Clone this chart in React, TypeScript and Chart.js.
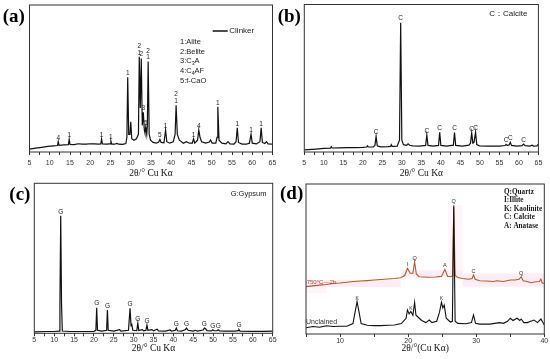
import React, { useEffect, useRef } from 'react';
import { Chart, registerables } from 'chart.js';

Chart.register(...registerables);

const W = 550;
const H = 359;
const SANS = '"Liberation Sans", Arial, sans-serif';
const SERIF = '"Liberation Serif", "Times New Roman", serif';

// ---------------- (a) Clinker ----------------
const aTheta = [5, 6.5, 8, 9.5, 11, 11.9, 12.1, 12.3, 13.5, 14.6, 14.8, 15.0, 16, 17, 18, 19, 20, 21, 22, 22.6, 22.8, 23.0, 24, 24.9, 25.1, 25.3, 26, 26.6, 27, 28, 28.8, 29.05, 29.25, 29.5, 29.8, 30.0, 30.25, 30.8, 31.4, 31.9, 32.1, 32.35, 32.6, 32.85, 33.1, 33.35, 33.5, 33.7, 33.95, 34.1, 34.3, 34.55, 34.9, 35.5, 36.3, 36.9, 37.2, 37.5, 38.2, 38.6, 38.9, 39.6, 40.5, 40.95, 41.2, 41.5, 42, 43, 43.7, 44.5, 45.2, 45.5, 45.8, 46.5, 46.8, 47.1, 47.5, 48.5, 49.4, 49.7, 50.1, 51.0, 51.3, 51.5, 51.8, 52.5, 53.5, 54.0, 54.5, 55.5, 56.0, 56.3, 56.6, 57.5, 58.5, 59.3, 59.7, 60.0, 61, 61.9, 62.2, 62.5, 63.1, 63.5, 63.9, 65];
const aClinker = [2, 2.6, 3.2, 3.8, 4.2, 4.4, 7, 4.5, 4.8, 5, 8.6, 5.1, 5, 5.6, 5.4, 5.3, 5.6, 5.5, 5.4, 5.5, 8.8, 5.5, 5.3, 5.5, 7.5, 5.4, 5.3, 5.8, 5.3, 5.2, 5.8, 10, 50.8, 12, 12, 20.5, 9, 8, 9, 12, 64.8, 30, 63.6, 18, 27, 15, 13, 17, 12, 18, 61.5, 12, 8, 6.5, 6, 6.8, 8.5, 6.5, 6.3, 15, 7, 6, 7, 12, 31.8, 12, 8, 6, 7, 6, 6, 9, 6, 8, 15, 10, 7, 6, 6.8, 8.2, 6, 6, 10, 30.8, 8, 6, 5.5, 7, 5.5, 5.3, 7, 16.5, 6.5, 5.4, 5.3, 6, 12, 6, 5.5, 7, 16.5, 6.5, 5.8, 7, 5.5, 5.3];
const aPeakTheta = [12.1, 14.8, 22.8, 25.1, 29.25, 32.1, 32.6, 33.1, 33.7, 34.3, 37.2, 38.6, 41.2, 45.5, 46.8, 51.5, 56.3, 59.7, 62.2];
const aPeakText = ['4', '1', '1', '1', '1', '2\n1', '2', '3', '5', '2\n1', '5', '1', '2\n1', '1', '4', '1', '1', '1', '1'];

// ---------------- (b) Calcite ----------------
const bTheta = [5, 8, 10, 11.7, 11.9, 12.1, 14, 16, 18, 20, 21.0, 21.2, 21.4, 22.7, 23.1, 23.4, 23.7, 24.5, 26.5, 27.1, 27.3, 27.5, 28.8, 29.4, 29.7, 30.0, 30.4, 31.2, 31.6, 32.0, 32.8, 34.5, 36.1, 36.4, 36.7, 38, 39.4, 39.7, 40.0, 41.5, 43.2, 43.5, 43.8, 45.5, 47.2, 47.6, 47.9, 48.2, 48.5, 48.9, 49.2, 49.9, 52, 55, 56.5, 56.7, 57.0, 57.5, 57.8, 58.1, 59.5, 60.8, 61.2, 61.6, 62.8, 63.4, 63.7, 64.6, 65];
const bCalcite = [1.5, 2, 2.4, 2.6, 3.6, 2.7, 2.8, 3, 3, 3.2, 3.4, 4.2, 3.4, 3.5, 4.5, 10.5, 4.2, 3.5, 3.6, 3.8, 5, 3.8, 4, 8, 87.7, 8, 5, 4.5, 5.5, 4.6, 4.2, 4, 4.5, 11.5, 4.5, 4, 4.5, 13.3, 4.5, 4, 4.6, 13.1, 4.5, 4, 4.6, 6, 13, 6, 6.5, 13.5, 5, 4.2, 4, 4, 4.4, 5.2, 4.5, 4.8, 6.6, 4.5, 4, 4.3, 5.4, 4.3, 4, 4.6, 4, 4.2, 5.4];
const bPeakTheta = [23.4, 29.7, 36.4, 39.7, 43.5, 47.9, 48.9, 56.7, 57.8, 61.2];
const bPeakText = ['C', 'C', 'C', 'C', 'C', 'C', 'C', 'C', 'C', 'C'];

// ---------------- (c) Gypsum ----------------
const cTheta = [5, 8, 10, 11.25, 11.45, 11.65, 11.85, 12.05, 14, 17, 20, 20.5, 20.7, 20.9, 22, 23.2, 23.4, 23.6, 25, 26.5, 26.8, 28.7, 29.1, 29.35, 29.5, 29.8, 30.8, 31.05, 31.3, 32.2, 32.5, 33.1, 33.35, 33.6, 34.6, 35, 35.9, 36.3, 38, 39.2, 39.5, 40.5, 40.75, 41.0, 42, 43.0, 43.3, 43.7, 45, 45.5, 46, 47.5, 47.8, 48.1, 48.5, 49.6, 49.9, 50.2, 51.0, 51.3, 51.6, 53, 55.5, 56.3, 56.5, 56.8, 60, 63, 65];
const cGypsum = [1, 1.2, 1.2, 1.5, 20, 78.4, 20, 1.5, 1.2, 1.2, 1.3, 2, 17.1, 2, 1.4, 2, 15.5, 2, 1.4, 2.4, 1.5, 2, 16.7, 5, 6.5, 2, 1.8, 6.7, 1.8, 2.4, 1.6, 2, 5.5, 2, 2.5, 1.6, 2.7, 1.6, 1.5, 2.2, 1.5, 2, 3.5, 1.7, 1.5, 2.3, 3.5, 2, 1.5, 2, 1.5, 2.2, 3.5, 3, 1.7, 1.6, 2.3, 1.7, 1.8, 2.3, 1.6, 1.4, 1.4, 1.8, 2.5, 1.5, 1.3, 1.3, 1.4];
const cPeakTheta = [11.65, 20.7, 23.4, 29.1, 31.05, 33.35, 40.75, 43.3, 47.8, 49.9, 51.3, 56.5];
const cPeakText = ['G', 'G', 'G', 'G', 'G', 'G', 'G', 'G', 'G', 'G', 'G', 'G'];

// ---------------- (d) Clay ----------------
const dTheta = [5, 6, 7, 8, 9, 10, 11, 11.9, 12.2, 12.5, 12.8, 13.1, 14, 15, 16, 17, 18, 19, 19.7, 19.9, 20.15, 20.4, 20.7, 20.95, 21.15, 21.4, 22, 22.6, 23.1, 23.5, 24.2, 24.6, 24.9, 25.1, 25.3, 25.6, 26.2, 26.5, 26.7, 26.9, 27.3, 28.5, 29.3, 29.6, 29.9, 30.5, 32, 33.4, 34, 34.6, 35, 35.4, 36, 36.4, 36.6, 37, 37.5, 38, 38.5, 39, 39.5, 40];
const dUncalcined = [4.2, 5, 4.5, 5.5, 5, 5.2, 5.2, 7, 14.4, 21.6, 14.4, 7, 5.8, 5.6, 5.6, 5.8, 6, 7, 10.5, 16, 13.4, 15, 12.5, 21.1, 12.5, 11.5, 9, 7.6, 9.3, 7.6, 8.5, 14.4, 21.1, 17.4, 19.3, 10.5, 8, 8.5, 85, 8.5, 7.1, 6.8, 7.6, 12.7, 7.1, 6.6, 6.6, 7.6, 7.1, 8.5, 10.5, 9, 10.5, 9, 10, 7.6, 7.6, 8.5, 9.3, 7.6, 10, 6];
const d750Theta = [5, 6, 7, 8, 9, 10, 11, 12, 13, 14, 15, 16, 17, 18, 18.9, 19.5, 19.9, 20.3, 20.7, 20.95, 21.2, 21.6, 22.3, 23, 24, 24.9, 25.4, 25.8, 26.3, 26.55, 26.7, 26.9, 27.3, 28, 28.9, 29.4, 29.6, 29.85, 30.5, 31.5, 32.5, 33, 34, 35, 35.7, 36.3, 36.6, 36.9, 37.5, 38, 38.8, 39.3, 39.5, 39.7, 40];
const d750 = [31.6, 32.1, 32.6, 33, 33.7, 34, 34.5, 35, 35.3, 35.6, 36, 36.3, 36.7, 37, 37.5, 39, 43.8, 40.5, 40.5, 48.2, 40, 38.2, 38, 37.8, 38, 38.4, 43.1, 38.4, 38.2, 39, 86, 39, 37.6, 37, 36.5, 37, 39.3, 36.5, 35.5, 35.3, 35, 35.5, 35, 36, 36, 36.5, 38.2, 35.5, 35, 34.2, 34.8, 35, 36.6, 34, 33.7];
const d750PeakTheta = [19.9, 20.95, 25.4, 26.7, 29.6, 36.6];
const d750PeakText = ['I', 'Q', 'A', 'Q', 'C', 'Q'];
const dUncPeakTheta = [12.5, 20.4, 24.9];
const dUncPeakText = ['K', 'K', 'K'];

type Seg = { t: string; sub?: boolean };
type TextItem = { segs: Seg[]; x: number; y: number; size: number; family: string; weight?: string; color: string };
type Band = { x0: number; x1: number; y0: number; y1: number; color: string };
type PeakSet = { ds: number; theta: number[]; text: string[]; size: number; gap: number; lineH: number; color: string };
type PanelCfg = {
  letter: string; letterX: number; letterY: number;
  area: { left: number; right: number; top: number; bottom: number };
  axisH: number; tickPad: number;
  xMin: number; xMax: number; step: number; labelEvery: number;
  title: string;
  series: { xs: number[]; ys: number[]; color: string; width: number }[];
  peaks: PeakSet[];
  texts: TextItem[];
  legendLine?: { x0: number; x1: number; y: number };
  bands?: Band[];
};

const t = (s: string, x: number, y: number, size: number, extra: Partial<TextItem> = {}): TextItem => ({
  segs: [{ t: s }], x, y, size, family: SANS, color: '#1a1a1a', ...extra,
});

const PINK = 'rgba(250,190,220,0.28)';

const panels: PanelCfg[] = [
  {
    letter: '(a)', letterX: 2.7, letterY: 17,
    area: { left: 29.5, right: 272.5, top: 5, bottom: 152 },
    axisH: 27, tickPad: 4,
    xMin: 5, xMax: 65, step: 2.5, labelEvery: 5,
    title: '2θ/° Cu Kα',
    series: [{ xs: aTheta, ys: aClinker, color: '#111', width: 1.2 }],
    peaks: [{ ds: 0, theta: aPeakTheta, text: aPeakText, size: 6.5, gap: 2.2, lineH: 6.8, color: '#222' }],
    legendLine: { x0: 212.7, x1: 227.7, y: 31 },
    texts: [
      t('Clinker', 229.3, 31, 8),
      t('1:Alite', 180, 42.3, 7.5),
      t('2:Belite', 180, 51.7, 7.5),
      { segs: [{ t: '3:C' }, { t: '3', sub: true }, { t: 'A' }], x: 180, y: 61.3, size: 7.5, family: SANS, color: '#1a1a1a' },
      { segs: [{ t: '4:C' }, { t: '4', sub: true }, { t: 'AF' }], x: 180, y: 71, size: 7.5, family: SANS, color: '#1a1a1a' },
      t('5:f-CaO', 180, 80.7, 7.5),
    ],
  },
  {
    letter: '(b)', letterX: 277.7, letterY: 17,
    area: { left: 304.3, right: 538.4, top: 4.5, bottom: 152 },
    axisH: 27, tickPad: 4,
    xMin: 5, xMax: 65, step: 2.5, labelEvery: 5,
    title: '2θ/° Cu Kα',
    series: [{ xs: bTheta, ys: bCalcite, color: '#111', width: 1.2 }],
    peaks: [{ ds: 0, theta: bPeakTheta, text: bPeakText, size: 6.5, gap: 2.2, lineH: 7, color: '#222' }],
    texts: [t('C：Calcite', 489.3, 13.3, 8)],
  },
  {
    letter: '(c)', letterX: 9.3, letterY: 195.5,
    area: { left: 34.3, right: 272.7, top: 183.3, bottom: 333.3 },
    axisH: 21, tickPad: 0,
    xMin: 5, xMax: 65, step: 2.5, labelEvery: 5,
    title: '2θ/° Cu Kα',
    series: [{ xs: cTheta, ys: cGypsum, color: '#111', width: 1.2 }],
    peaks: [{ ds: 0, theta: cPeakTheta, text: cPeakText, size: 6.5, gap: 2.2, lineH: 7, color: '#222' }],
    texts: [t('G:Gypsum', 230.7, 194.3, 7.5)],
  },
  {
    letter: '(d)', letterX: 280, letterY: 194,
    area: { left: 306, right: 544.3, top: 184, bottom: 334 },
    axisH: 20, tickPad: 0,
    xMin: 5, xMax: 40, step: 5, labelEvery: 10,
    title: '2θ/°(Cu Kα)',
    series: [
      { xs: dTheta, ys: dUncalcined, color: '#111', width: 1.1 },
      { xs: d750Theta, ys: d750, color: '#b55a26', width: 1.1 },
    ],
    peaks: [
      { ds: 1, theta: d750PeakTheta, text: d750PeakText, size: 5.5, gap: 2, lineH: 6, color: '#333' },
      { ds: 0, theta: dUncPeakTheta, text: dUncPeakText, size: 5, gap: 2, lineH: 6, color: '#333' },
    ],
    bands: [
      { x0: 5, x1: 18.9, y0: 31.3, y1: 36, color: PINK },
      { x0: 5, x1: 8, y0: 27.3, y1: 31.3, color: 'rgba(250,200,225,0.18)' },
      { x0: 18.9, x1: 28, y0: 38.2, y1: 42.5, color: PINK },
      { x0: 28, x1: 40, y0: 31.5, y1: 40.4, color: PINK },
      { x0: 25.9, x1: 28, y0: 42.5, y1: 86, color: 'rgba(250,200,225,0.2)' },
    ],
    texts: [
      t('Q:Quartz', 504, 191.7, 7.2, { family: SERIF, weight: 'bold' }),
      t('I:Illite', 504, 200.3, 7.2, { family: SERIF, weight: 'bold' }),
      t('K: Kaolinite', 504, 209, 7.2, { family: SERIF, weight: 'bold' }),
      t('C: Calcite', 504, 217.5, 7.2, { family: SERIF, weight: 'bold' }),
      t('A: Anatase', 504, 226.5, 7.2, { family: SERIF, weight: 'bold' }),
      t('750°C—2h', 306.7, 282.5, 6, { color: '#b0452a' }),
      t('Unclained', 306, 322.5, 7, { color: '#333' }),
    ],
  },
];

function drawText(ctx: CanvasRenderingContext2D, it: TextItem) {
  let x = it.x;
  ctx.textBaseline = 'middle';
  ctx.textAlign = 'left';
  ctx.fillStyle = it.color;
  for (const s of it.segs) {
    const size = s.sub ? it.size * 0.7 : it.size;
    ctx.font = `${it.weight || 'normal'} ${size}px ${it.family}`;
    ctx.fillText(s.t, x, s.sub ? it.y + it.size * 0.3 : it.y);
    x += ctx.measureText(s.t).width;
  }
}

function decor(cfg: PanelCfg) {
  return {
    id: 'decor',
    beforeDatasetsDraw(chart: any) {
      if (!cfg.bands) return;
      const { ctx, scales } = chart;
      ctx.save();
      for (const b of cfg.bands) {
        const x0 = scales.x.getPixelForValue(b.x0);
        const x1 = scales.x.getPixelForValue(b.x1);
        const y0 = scales.y.getPixelForValue(b.y0);
        const y1 = scales.y.getPixelForValue(b.y1);
        ctx.fillStyle = b.color;
        ctx.fillRect(x0, y1, x1 - x0, y0 - y1);
      }
      ctx.restore();
    },
    afterDraw(chart: any) {
      const { ctx, chartArea: a, scales } = chart;
      ctx.save();
      ctx.strokeStyle = '#333';
      ctx.lineWidth = 1;
      ctx.strokeRect(a.left, a.top, a.right - a.left, a.bottom - a.top);
      for (const p of cfg.peaks) {
        const data = chart.data.datasets[p.ds].data as { x: number; y: number }[];
        ctx.font = `${p.size}px ${SANS}`;
        ctx.fillStyle = p.color;
        ctx.textAlign = 'center';
        ctx.textBaseline = 'alphabetic';
        p.theta.forEach((th, i) => {
          let best = data[0];
          for (const d of data) if (Math.abs(d.x - th) < Math.abs(best.x - th)) best = d;
          const px = scales.x.getPixelForValue(th);
          const py = scales.y.getPixelForValue(best.y) - p.gap;
          const lines = p.text[i].split('\n');
          lines.forEach((ln, j) => {
            ctx.fillText(ln, px, py - (lines.length - 1 - j) * p.lineH);
          });
        });
      }
      if (cfg.legendLine) {
        ctx.strokeStyle = '#111';
        ctx.lineWidth = 1.5;
        ctx.beginPath();
        ctx.moveTo(cfg.legendLine.x0, cfg.legendLine.y);
        ctx.lineTo(cfg.legendLine.x1, cfg.legendLine.y);
        ctx.stroke();
      }
      for (const it of cfg.texts) drawText(ctx, it);
      ctx.font = `bold 19px ${SERIF}`;
      ctx.fillStyle = '#000';
      ctx.textAlign = 'left';
      ctx.textBaseline = 'middle';
      ctx.fillText(cfg.letter, cfg.letterX, cfg.letterY);
      ctx.restore();
    },
  };
}

function Panel({ cfg }: { cfg: PanelCfg }) {
  const ref = useRef<HTMLCanvasElement>(null);
  useEffect(() => {
    const canvas = ref.current;
    if (!canvas) return;
    const chart = new Chart(canvas, {
      type: 'line',
      data: {
        datasets: cfg.series.map((s) => ({
          data: s.xs.map((x, i) => ({ x, y: s.ys[i] })),
          borderColor: s.color,
          borderWidth: s.width,
          pointRadius: 0,
          tension: 0,
          fill: false,
        })),
      },
      options: {
        responsive: false,
        animation: false,
        events: [],
        layout: {
          padding: {
            left: cfg.area.left,
            right: W - cfg.area.right,
            top: cfg.area.top,
            bottom: H - cfg.area.bottom - cfg.axisH,
          },
        },
        plugins: { legend: { display: false }, tooltip: { enabled: false } },
        scales: {
          x: {
            type: 'linear',
            min: cfg.xMin,
            max: cfg.xMax,
            ticks: {
              stepSize: cfg.step,
              autoSkip: false,
              maxRotation: 0,
              minRotation: 0,
              padding: cfg.tickPad,
              font: { family: SANS, size: 7 },
              color: '#333',
              callback: (v: any) => {
                const n = Number(v);
                const r = n / cfg.labelEvery;
                return Math.abs(r - Math.round(r)) < 1e-6 ? String(n) : '';
              },
            },
            grid: { drawOnChartArea: false, drawTicks: true, tickLength: 3, color: '#333' },
            border: { display: false },
            title: {
              display: true,
              text: cfg.title,
              font: { family: SERIF, size: 9.5 },
              color: '#111',
              padding: 0,
            },
            afterFit: (s: any) => {
              s.height = cfg.axisH;
            },
          },
          y: { display: false, min: 0, max: 100 },
        },
      },
      plugins: [decor(cfg)],
    } as any);
    return () => chart.destroy();
  }, [cfg]);
  return <canvas ref={ref} width={W} height={H} style={{ position: 'absolute', left: 0, top: 0 }} />;
}

export default function App() {
  return (
    <div style={{ position: 'absolute', left: 0, top: 0, width: W, height: H, background: '#fff', overflow: 'hidden' }}>
      {panels.map((p) => (
        <Panel key={p.letter} cfg={p} />
      ))}
    </div>
  );
}
